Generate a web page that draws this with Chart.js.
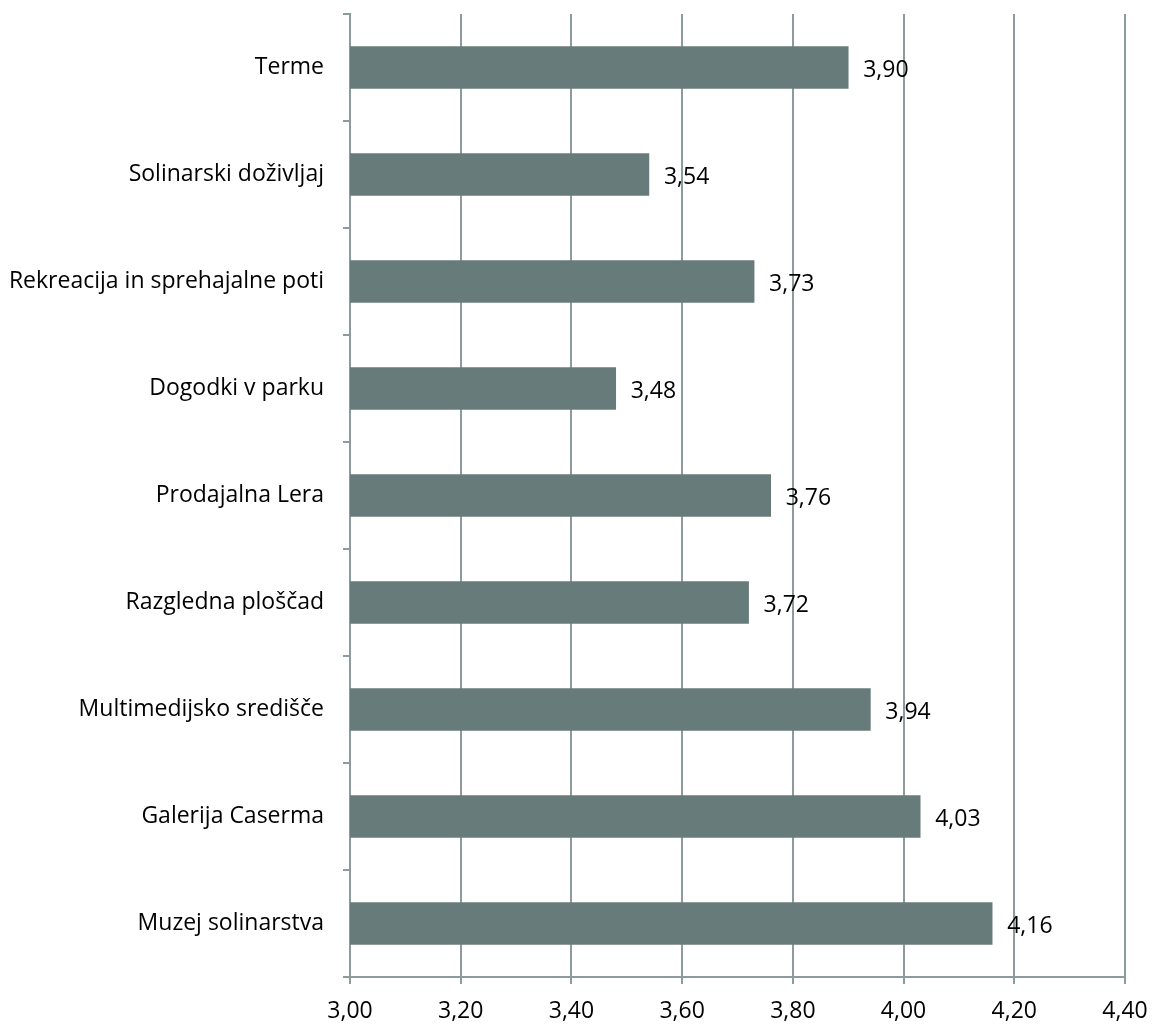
<!DOCTYPE html>
<html lang="sl">
<head>
  <meta charset="UTF-8">
  <title>Ocene ponudbe</title>
  <script src="https://cdn.jsdelivr.net/npm/chart.js"></script>
  <style>
    * { margin: 0; padding: 0; box-sizing: border-box; }
    body { width: 1158px; height: 1025px; background: #fff; overflow: hidden; }
    .wrap { position: relative; width: 1158px; height: 1025px; }
  </style>
</head>
<body>
  <div class="wrap">
    <canvas id="chart"></canvas>
  </div>

  <script>
    // Data
    const categories = [
      'Terme',
      'Solinarski doživljaj',
      'Rekreacija in sprehajalne poti',
      'Dogodki v parku',
      'Prodajalna Lera',
      'Razgledna ploščad',
      'Multimedijsko središče',
      'Galerija Caserma',
      'Muzej solinarstva'
    ];
    const scores = [3.90, 3.54, 3.73, 3.48, 3.76, 3.72, 3.94, 4.03, 4.16];
    const axisMin = 3.0;
    const axisMax = 4.4;
    const axisStep = 0.2;

    const fmt = v => v.toFixed(2).replace('.', ',');
    const font = "'Open Sans', Lato, sans-serif";
    const gridColor = '#8c9c9c';

    // value labels at the end of each bar
    const valueLabels = {
      id: 'valueLabels',
      afterDatasetsDraw(chart) {
        const ctx = chart.ctx;
        const meta = chart.getDatasetMeta(0);
        ctx.save();
        ctx.font = '23px ' + font;
        ctx.fillStyle = '#000';
        ctx.textBaseline = 'middle';
        ctx.textAlign = 'left';
        meta.data.forEach((bar, i) => {
          ctx.fillText(fmt(scores[i]), bar.x + 15, bar.y + 3);
        });
        ctx.restore();
      }
    };

    new Chart(document.getElementById('chart'), {
      type: 'bar',
      data: {
        labels: categories,
        datasets: [{
          data: scores,
          backgroundColor: '#687b7b',
          barThickness: 42
        }]
      },
      options: {
        indexAxis: 'y',
        responsive: true,
        maintainAspectRatio: false,
        animation: false,
        layout: { padding: { top: 14, right: 33, left: 0, bottom: 0 } },
        plugins: {
          legend: { display: false },
          tooltip: { enabled: false }
        },
        scales: {
          x: {
            min: axisMin,
            max: axisMax,
            ticks: {
              stepSize: axisStep,
              color: '#000',
              font: { family: font, size: 23 },
              padding: 14,
              callback: v => fmt(v)
            },
            grid: { color: gridColor, lineWidth: 2, tickLength: 7, drawTicks: true },
            border: { color: gridColor, width: 2 },
            afterFit(scale) {
              scale.height = 48;
              scale.paddingLeft = 0;
              scale.paddingRight = 0;
            }
          },
          y: {
            offset: true,
            ticks: {
              color: '#000',
              font: { family: font, size: 23 },
              padding: 19
            },
            grid: { offset: true, drawOnChartArea: false, color: gridColor, lineWidth: 2, tickLength: 7 },
            border: { color: gridColor, width: 2 },
            afterFit(scale) {
              scale.width = 350;
              scale.paddingTop = 0;
              scale.paddingBottom = 0;
            }
          }
        }
      },
      plugins: [valueLabels]
    });
  </script>
</body>
</html>
